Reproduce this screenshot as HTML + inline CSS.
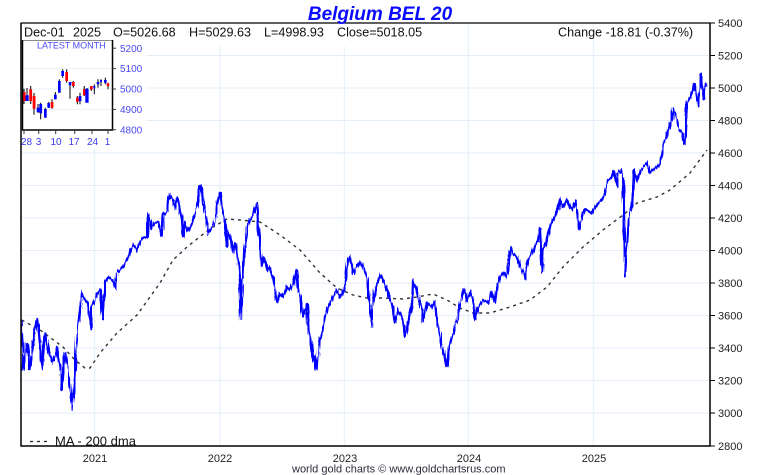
<!DOCTYPE html>
<html><head><meta charset="utf-8">
<style>
html,body{margin:0;padding:0;background:#fff;}
svg{display:block;font-family:"Liberation Sans",sans-serif;}
</style></head>
<body>
<svg width="760" height="475" viewBox="0 0 760 475" xmlns="http://www.w3.org/2000/svg">
<defs>
<filter id="jit" x="-2%" y="-5%" width="104%" height="110%">
<feTurbulence type="fractalNoise" baseFrequency="0.7 0.05" numOctaves="1" seed="7" result="n"/>
<feDisplacementMap in="SourceGraphic" in2="n" scale="5" xChannelSelector="A" yChannelSelector="R"/>
</filter>
</defs>
<rect width="760" height="475" fill="#fff"/>
<!-- gridlines -->
<g stroke="#e3eef8" stroke-width="1">
<line x1="21" y1="55.5" x2="710" y2="55.5"/>
<line x1="21" y1="88" x2="710" y2="88"/>
<line x1="21" y1="120.5" x2="710" y2="120.5"/>
<line x1="21" y1="153" x2="710" y2="153"/>
<line x1="21" y1="185.5" x2="710" y2="185.5"/>
<line x1="21" y1="218" x2="710" y2="218"/>
<line x1="21" y1="250.5" x2="710" y2="250.5"/>
<line x1="21" y1="283" x2="710" y2="283"/>
<line x1="21" y1="315.5" x2="710" y2="315.5"/>
<line x1="21" y1="348" x2="710" y2="348"/>
<line x1="21" y1="380.5" x2="710" y2="380.5"/>
<line x1="21" y1="413" x2="710" y2="413"/>
<line x1="94.7" y1="23" x2="94.7" y2="446"/>
<line x1="220" y1="23" x2="220" y2="446"/>
<line x1="344.3" y1="23" x2="344.3" y2="446"/>
<line x1="468.3" y1="23" x2="468.3" y2="446"/>
<line x1="593.3" y1="23" x2="593.3" y2="446"/>
</g>
<rect x="21.5" y="23.5" width="125" height="125" fill="#fff"/>
<rect x="146" y="23.5" width="285" height="23" fill="#fff"/>

<!-- moving average -->
<polyline fill="none" stroke="#333" stroke-width="1.4" stroke-dasharray="3,4"
points="21.7,320 40,330 63,347 75,360 85,368 90,368 100,353 117,333 137,315 160,283 173,260 187,247 202,235 213,227 227,219 240,220 260,222 280,235 300,250 320,273 337,288 353,295 367,298 383,298 403,299 417,297 433,294 447,300 460,308 473,313 490,313 510,307 530,300 547,287 563,267 583,247 603,230 623,215 637,203 657,197 670,190 690,173 707,150"/>

<!-- price series -->
<g filter="url(#jit)">
<polyline fill="none" stroke="#0000ff" stroke-width="2.2" stroke-linejoin="miter"
points="21.7,320 23,370 27,343 30,370 35,330 37,318 40,343 42,370 45,333 48,347 52,363 57,350 60,370 62,390 65,352 68,370 70,387 72,410 73,397 75,377 77,337 79,317 82,293 85,300 88,303 91,330 92,307 95,300 97,293 100,290 102,307 103,320 105,283 108,277 112,280 115,287 117,273 120,270 123,267 127,260 130,250 133,245 137,250 140,242 143,238 147,237 148,213 152,228 155,223 158,222 162,237 163,215 167,212 168,200 170,195 173,200 175,210 177,197 179,203 182,220 183,237 185,223 188,230 192,223 195,213 198,203 200,185 202,190 203,203 205,210 207,223 208,233 212,227 215,222 217,210 218,200 220,192 222,207 224,217 227,247 228,230 231,240 233,253 236,243 238,260 240,283 241,320 242,280 243,277 244,253 246,240 247,227 250,220 253,215 257,203 258,223 260,240 262,267 264,257 267,270 270,267 273,277 275,290 277,303 280,293 283,297 287,287 290,290 293,283 297,270 298,287 301,300 303,317 307,303 308,323 311,343 313,360 315,357 317,370 319,343 322,330 325,317 328,307 333,297 337,290 340,297 343,293 346,280 348,260 350,257 353,273 357,267 360,262 363,267 367,277 368,290 370,307 372,327 373,303 376,287 380,275 383,280 387,290 390,300 393,307 395,323 398,310 402,317 405,337 408,323 412,307 413,282 416,287 418,297 422,310 423,322 427,303 432,307 435,300 437,323 440,337 443,350 447,367 449,347 452,337 455,323 458,320 460,307 463,288 467,300 470,293 473,300 475,320 478,307 483,300 488,303 492,293 495,303 497,287 500,277 503,273 506,277 508,267 511,247 513,253 517,257 520,267 523,273 525,277 528,260 532,253 535,247 538,240 540,227 542,273 543,250 547,240 550,227 553,220 557,213 560,200 563,207 567,200 570,207 573,210 576,200 579,230 582,217 585,210 588,210 592,213 595,207 598,203 602,200 605,193 608,180 612,177 614,170 617,187 618,173 621,170 623,177 624,207 625,277 627,247 629,217 632,207 634,170 637,180 640,170 643,167 647,163 650,173 653,170 657,167 660,163 662,153 663,143 667,137 670,127 672,117 673,110 675,113 677,120 679,130 682,133 683,140 685,145 686,120 687,103 690,98 693,90 694,83 696,93 698,107 700,90 701,73 703,93 704,100 706,83 707,87"/>
</g>

<!-- frame -->
<g stroke="#000" fill="none">
<line x1="21" y1="23" x2="21" y2="446.5" stroke-width="1.5"/>
<line x1="20.5" y1="23" x2="710.5" y2="23" stroke-width="1.2"/>
<line x1="20.5" y1="446" x2="710.5" y2="446" stroke-width="1.5"/>
<line x1="710" y1="22.5" x2="710" y2="446.5" stroke-width="1.5"/>
</g>
<g stroke="#000" stroke-width="1">
<line x1="710" y1="23" x2="715" y2="23"/>
<line x1="710" y1="55.5" x2="715" y2="55.5"/>
<line x1="710" y1="88" x2="715" y2="88"/>
<line x1="710" y1="120.5" x2="715" y2="120.5"/>
<line x1="710" y1="153" x2="715" y2="153"/>
<line x1="710" y1="185.5" x2="715" y2="185.5"/>
<line x1="710" y1="218" x2="715" y2="218"/>
<line x1="710" y1="250.5" x2="715" y2="250.5"/>
<line x1="710" y1="283" x2="715" y2="283"/>
<line x1="710" y1="315.5" x2="715" y2="315.5"/>
<line x1="710" y1="348" x2="715" y2="348"/>
<line x1="710" y1="380.5" x2="715" y2="380.5"/>
<line x1="710" y1="413" x2="715" y2="413"/>
<line x1="710" y1="446" x2="715" y2="446"/>
</g>
<g font-size="11" fill="#222">
<text x="718" y="27">5400</text>
<text x="718" y="59.5">5200</text>
<text x="718" y="92">5000</text>
<text x="718" y="124.5">4800</text>
<text x="718" y="157">4600</text>
<text x="718" y="189.5">4400</text>
<text x="718" y="222">4200</text>
<text x="718" y="254.5">4000</text>
<text x="718" y="287">3800</text>
<text x="718" y="319.5">3600</text>
<text x="718" y="352">3400</text>
<text x="718" y="384.5">3200</text>
<text x="718" y="417">3000</text>
<text x="718" y="450">2800</text>
</g>
<g font-size="11" fill="#222" text-anchor="middle">
<text x="95" y="462">2021</text>
<text x="220" y="462">2022</text>
<text x="345" y="462">2023</text>
<text x="469" y="462">2024</text>
<text x="594" y="462">2025</text>
</g>
<text x="292" y="472.5" font-size="11" fill="#2a2a3a">world gold charts © www.goldchartsrus.com</text>

<text x="380" y="20" font-size="19" font-weight="bold" font-style="italic" fill="#0a0aff" text-anchor="middle">Belgium BEL 20</text>

<g font-size="12.6" fill="#111">
<text x="24" y="36.5">Dec-01</text>
<text x="73" y="36.5">2025</text>
<text x="113" y="36.5">O=5026.68</text>
<text x="189" y="36.5">H=5029.63</text>
<text x="264" y="36.5">L=4998.93</text>
<text x="337" y="36.5">Close=5018.05</text>
<text x="558" y="36.5">Change -18.81 (-0.37%)</text>
</g>

<line x1="30" y1="441.5" x2="51" y2="441.5" stroke="#222" stroke-width="1.3" stroke-dasharray="3,4"/>
<text x="55" y="445.5" font-size="13" fill="#111">MA - 200 dma</text>

<!-- inset -->
<rect x="22.5" y="40.5" width="90" height="89.5" fill="#fff" stroke="none"/>
<g stroke="#eaf2fa" stroke-width="1">
<line x1="23" y1="68.6" x2="112" y2="68.6"/>
<line x1="23" y1="89" x2="112" y2="89"/>
<line x1="23" y1="109.4" x2="112" y2="109.4"/>
</g>
<text x="37" y="48.5" font-size="9" fill="#4a4af0">LATEST MONTH</text>
<g stroke="#000" stroke-width="1">
<line x1="24" y1="88.7" x2="24" y2="104"/>
<line x1="27" y1="88" x2="27" y2="101"/>
<line x1="30.7" y1="86" x2="30.7" y2="104"/>
<line x1="34" y1="93" x2="34" y2="114.7"/>
<line x1="38" y1="104" x2="38" y2="113"/>
<line x1="40.7" y1="102.7" x2="40.7" y2="119.3"/>
<line x1="45.3" y1="107.7" x2="45.3" y2="117.7"/>
<line x1="48.7" y1="102" x2="48.7" y2="108"/>
<line x1="52" y1="99.3" x2="52" y2="108.7"/>
<line x1="55.3" y1="92" x2="55.3" y2="99.3"/>
<line x1="59.3" y1="79.3" x2="59.3" y2="92.7"/>
<line x1="62.7" y1="69.3" x2="62.7" y2="77.7"/>
<line x1="66.7" y1="69.3" x2="66.7" y2="82.7"/>
<line x1="70" y1="82" x2="70" y2="98.7"/>
<line x1="73.3" y1="81" x2="73.3" y2="87.7"/>
<line x1="77.3" y1="96" x2="77.3" y2="104.3"/>
<line x1="80" y1="92.7" x2="80" y2="104.3"/>
<line x1="84.2" y1="86" x2="84.2" y2="96"/>
<line x1="87" y1="88" x2="87" y2="102.7"/>
<line x1="91.3" y1="86" x2="91.3" y2="91"/>
<line x1="94.3" y1="84.3" x2="94.3" y2="94.3"/>
<line x1="98" y1="79.3" x2="98" y2="87.7"/>
<line x1="101" y1="79.3" x2="101" y2="86"/>
<line x1="105.3" y1="77.7" x2="105.3" y2="84.3"/>
<line x1="108" y1="82.7" x2="108" y2="89.3"/>
</g>
<g stroke="none">
<rect x="22.7" y="92" width="2.8" height="9" fill="#f00"/>
<rect x="25.5" y="95.3" width="3.2" height="5.7" fill="#00f"/>
<rect x="29.3" y="89.3" width="2.8" height="11.7" fill="#f00"/>
<rect x="32.7" y="96" width="2.8" height="12.7" fill="#f00"/>
<rect x="36.7" y="107.7" width="2.7" height="4.3" fill="#00f"/>
<rect x="39.3" y="104" width="2.8" height="9.3" fill="#00f"/>
<rect x="44" y="109" width="2.7" height="8.7" fill="#00f"/>
<rect x="47.3" y="103" width="2.7" height="4.7" fill="#00f"/>
<rect x="50.7" y="102" width="2.7" height="5.7" fill="#f00"/>
<rect x="54" y="94.7" width="2.7" height="4.6" fill="#00f"/>
<rect x="58" y="81" width="2.7" height="11.7" fill="#00f"/>
<rect x="61.3" y="71" width="2.7" height="5" fill="#00f"/>
<rect x="65.3" y="72" width="2.7" height="9" fill="#f00"/>
<rect x="68.7" y="82" width="2.7" height="3.3" fill="#00f"/>
<rect x="72" y="82" width="2.7" height="4" fill="#f00"/>
<rect x="76" y="97.7" width="2.7" height="4" fill="#f00"/>
<rect x="78.7" y="96" width="2.7" height="5" fill="#00f"/>
<rect x="83" y="89.3" width="2.5" height="6" fill="#f00"/>
<rect x="85.3" y="88.7" width="3.3" height="14" fill="#00f"/>
<rect x="90" y="86" width="2.7" height="3.3" fill="#f00"/>
<rect x="93.3" y="86" width="2" height="2.3" fill="#00f"/>
<rect x="96.7" y="82" width="2.6" height="2.3" fill="#00f"/>
<rect x="100" y="80" width="2" height="2" fill="#00f"/>
<rect x="104" y="80" width="2.7" height="2.7" fill="#00f"/>
<rect x="106.7" y="83.3" width="2.6" height="2.7" fill="#f00"/>
</g>
<g stroke="#000" fill="none">
<line x1="22.5" y1="40.5" x2="112.5" y2="40.5" stroke-width="0.8" stroke="#666"/>
<line x1="22.5" y1="40" x2="22.5" y2="130.5" stroke-width="1.5"/>
<line x1="112.5" y1="40" x2="112.5" y2="130.5" stroke-width="1.5"/>
<line x1="22" y1="130" x2="113" y2="130" stroke-width="1.5"/>
</g>
<g stroke="#333" stroke-width="1">
<line x1="112" y1="48.2" x2="116" y2="48.2"/>
<line x1="112" y1="68.6" x2="116" y2="68.6"/>
<line x1="112" y1="89" x2="116" y2="89"/>
<line x1="112" y1="109.4" x2="116" y2="109.4"/>
<line x1="112" y1="129.8" x2="116" y2="129.8"/>
<line x1="24" y1="130" x2="24" y2="134"/>
<line x1="38.7" y1="130" x2="38.7" y2="134"/>
<line x1="55.7" y1="130" x2="55.7" y2="134"/>
<line x1="74.7" y1="130" x2="74.7" y2="134"/>
<line x1="92" y1="130" x2="92" y2="134"/>
<line x1="108" y1="130" x2="108" y2="134"/>
</g>
<g font-size="10" fill="#4a4af0">
<text x="120" y="51.8">5200</text>
<text x="120" y="72.2">5100</text>
<text x="120" y="92.6">5000</text>
<text x="120" y="113">4900</text>
<text x="120" y="133.4">4800</text>
</g>
<g font-size="10" fill="#3a3af0" text-anchor="middle">
<text x="26.5" y="145">28</text>
<text x="38.5" y="145">3</text>
<text x="56" y="145">10</text>
<text x="74" y="145">17</text>
<text x="92.5" y="145">24</text>
<text x="107.5" y="145">1</text>
</g>
</svg>
</body></html>
